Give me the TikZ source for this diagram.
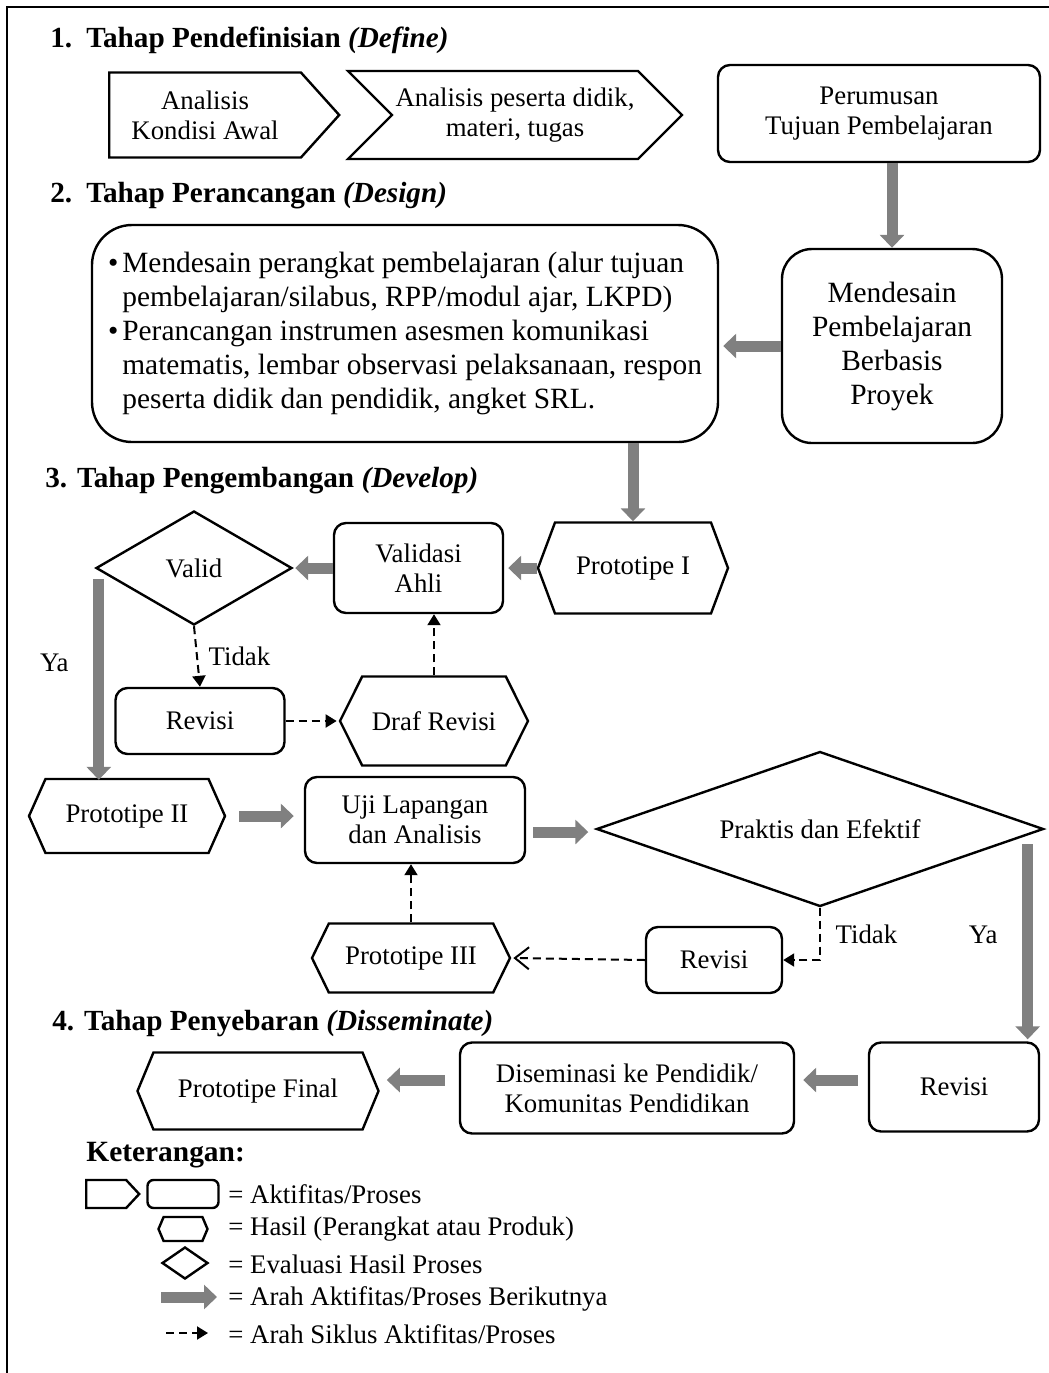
\documentclass[tikz,border=0pt]{standalone}
\usepackage{fontspec}
\setmainfont{Liberation Serif}
\usetikzlibrary{shapes.geometric, shapes.symbols, arrows.meta}

\newcommand{\fsnorm}{\fontsize{13.4}{15}\selectfont}
\newcommand{\fsbig}{\fontsize{14.7}{17}\selectfont}
\newcommand{\bulind}{\phantom{\textbullet\hspace{2pt}}}

\tikzset{
  act/.style={draw, line width=1.2pt, rounded corners=6pt, align=center, inner sep=0pt, font=\fsnorm},
  sig/.style={draw, line width=1.2pt, signal, signal to=east, signal pointer angle=96, align=center, inner sep=0pt, font=\fsnorm},
  hasil/.style={draw, line width=1.2pt, signal, signal to=east and west, signal pointer angle=132, align=center, inner sep=0pt, font=\fsnorm},
  eval/.style={draw, line width=1.2pt, diamond, align=center, inner sep=0pt, font=\fsnorm},
  flow/.style={draw=black!50, line width=5.5pt, -{Triangle[length=6.5pt,width=12pt]}},
  cyc/.style={draw, line width=1pt, dash pattern=on 4pt off 2.5pt, -{Triangle[length=5.5pt,width=6.5pt]}},
  judul/.style={anchor=base west, inner sep=0pt, font=\fontsize{14.6}{17}\selectfont\bfseries},
  ket/.style={anchor=west, inner sep=0pt, font=\fsnorm}
}

\begin{document}
\begin{tikzpicture}[x=0.5pt, y=-0.5pt]
  \useasboundingbox (0,0) rectangle (1049,1373);
  \draw[line width=1pt] (7,1373) -- (7,7) -- (1049,7);

  % 1. define
  \node[judul] (h1) at (50,47) {1.\hspace{7pt}Tahap Pendefinisian \textit{(Define)}};
  \node[sig, anchor=west, minimum width=115pt, minimum height=42.5pt] (ana) at (108,115) {Analisis\\Kondisi Awal};
  \node[sig, signal from=west, signal pointer angle=90, minimum width=167pt, minimum height=44pt] (ana2) at (515,115) {Analisis peserta didik,\\materi, tugas};
  \node[act, minimum width=161pt, minimum height=48.5pt] (peru) at (879,113.5) {Perumusan\\Tujuan Pembelajaran};

  % 2. design
  \node[judul] (h2) at (50,202) {2.\hspace{7pt}Tahap Perancangan \textit{(Design)}};
  \node[act, rounded corners=20pt, font=\fsbig, align=left, minimum width=313pt, minimum height=108.5pt] (desain) at (405,333.5)
    {\textbullet\hspace{2pt}Mendesain perangkat pembelajaran (alur tujuan\\
     \bulind pembelajaran/silabus, RPP/modul ajar, LKPD)\\
     \textbullet\hspace{2pt}Perancangan instrumen asesmen komunikasi\\
     \bulind matematis, lembar observasi pelaksanaan, respon\\
     \bulind peserta didik dan pendidik, angket SRL.};
  \node[act, rounded corners=15pt, font=\fsbig, minimum width=110pt, minimum height=97pt] (pjbl) at (892,346) {Mendesain\\Pembelajaran\\Berbasis\\Proyek};

  % 3. develop
  \node[judul] (h3) at (45,487) {3. Tahap Pengembangan \textit{(Develop)}};
  \node[hasil, signal pointer angle=139, minimum width=95pt, minimum height=45.5pt] (proto1) at (633,568) {Prototipe I};
  \node[act, minimum width=84.5pt, minimum height=45pt] (vali) at (418.5,568) {Validasi\\Ahli};
  \node[eval, aspect=1.7, minimum width=98pt, minimum height=57pt] (valid) at (194,568) {Valid};
  \node[act, minimum width=84.5pt, minimum height=33pt] (rev1) at (200,721) {Revisi};
  \node[hasil, signal pointer angle=127, minimum width=94pt, minimum height=44.5pt] (draf) at (434,721) {Draf Revisi};
  \node[hasil, minimum width=98pt, minimum height=37pt] (proto2) at (127,816) {Prototipe II};
  \node[act, minimum width=110pt, minimum height=43pt] (uji) at (415,820) {Uji Lapangan\\dan Analisis};
  \node[eval, aspect=2.9, minimum width=223.5pt, minimum height=77.5pt] (praktis) at (820,829) {Praktis dan Efektif};
  \node[act, minimum width=68pt, minimum height=33pt] (rev2) at (714,960) {Revisi};
  \node[hasil, signal pointer angle=128, minimum width=99pt, minimum height=34.5pt] (proto3) at (411,958) {Prototipe III};

  % 4. disseminate
  \node[judul] (h4) at (52,1030) {4. Tahap Penyebaran \textit{(Disseminate)}};
  \node[hasil, signal pointer angle=135, minimum width=120.5pt, minimum height=38.5pt] (final) at (258,1091) {Prototipe Final};
  \node[act, minimum width=167pt, minimum height=45.5pt] (disem) at (627,1088) {Diseminasi ke Pendidik/\\Komunitas Pendidikan};
  \node[act, minimum width=85pt, minimum height=44.5pt] (rev3) at (954,1087) {Revisi};

  \path[every edge/.append style={flow}]
    (pjbl.north |- peru.south) edge (pjbl.north)
    (pjbl.west) edge[shorten >=2pt] (pjbl.west -| desain.east)
    (proto1.north |- desain.south) edge (proto1.north)
    (proto1.west) edge[shorten >=2pt] (vali.east)
    (vali.west) edge[shorten >=1pt] (valid.east)
    ([shift={(4,11)}]valid.west) edge[shorten >=4.5pt] node[left=9pt, pos=0.4, font=\fsnorm, black] {Ya} ([shift={(4,11)}]valid.west |- proto2.north)
    (proto2.east) edge[shorten <=6.5pt, shorten >=5pt] (proto2.east -| uji.west)
    ([yshift=-6pt]uji.east) edge[shorten <=3.5pt, shorten >=3.5pt] ([yshift=-6pt]uji.east -| praktis.west)
    ([shift={(-17,15)}]praktis.east) edge[shorten >=8.5pt] node[left=9pt, pos=0.43, font=\fsnorm, black] {Ya} ([shift={(-17,15)}]praktis.east |- rev3.north)
    ([yshift=3.5pt]rev3.west) edge[shorten <=5pt, shorten >=4pt] ([yshift=3.5pt]rev3.west -| disem.east)
    ([yshift=4pt]disem.west) edge[shorten <=7pt, shorten >=3.5pt] ([yshift=4pt]disem.west -| final.east);

  \path[every edge/.append style={cyc}]
    (valid.south) edge node[right=2pt, font=\fsnorm] {Tidak} (rev1.north)
    (rev1.east) edge[shorten >=1pt] (draf.west)
    (draf.north) edge (draf.north |- vali.south)
    (proto3.north) edge (proto3.north |- uji.south);
  \draw[cyc] (praktis.south) |- node[right=4pt, pos=0.25, font=\fsnorm] {Tidak} (rev2.east);
  \draw[cyc, -{Straight Barb[length=7pt,width=11pt]}] (rev2.west) -- ([xshift=1pt]proto3.east);

  % keterangan
  \node[judul, font=\fontsize{14.7}{17}\selectfont\bfseries] (ket) at (86,1161) {Keterangan:};
  \node[sig, anchor=west, signal pointer angle=94, minimum width=26.5pt, minimum height=14pt] (lg1) at (85,1194) {};
  \node[act, rounded corners=3pt, minimum width=35.5pt, minimum height=14pt] (lg2) at (183,1194) {};
  \node[hasil, signal pointer angle=134, minimum width=24.5pt, minimum height=12pt] (lg3) at (183,1229) {};
  \node[eval, minimum width=23pt, minimum height=16pt] (lg4) at (185,1263) {};
  \coordinate (lg5a) at (161,1297);
  \coordinate (lg5b) at (217,1297);
  \coordinate (lg6a) at (166,1333);
  \coordinate (lg6b) at (208,1333);
  \draw[flow] (lg5a) -- (lg5b);
  \draw[cyc] (lg6a) -- (lg6b);
  \node[ket] (k1) at (228,1194) {= Aktifitas/Proses};
  \node[ket] (k2) at (228,1229) {= Hasil (Perangkat atau Produk)};
  \node[ket] (k3) at (228,1264) {= Evaluasi Hasil Proses};
  \node[ket] (k4) at (228,1299) {= Arah Aktifitas/Proses Berikutnya};
  \node[ket] (k5) at (228,1334) {= Arah Siklus Aktifitas/Proses};
\end{tikzpicture}
\end{document}
